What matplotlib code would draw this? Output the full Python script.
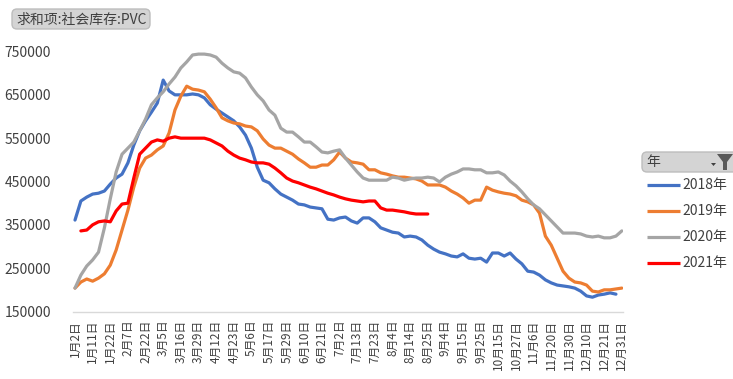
import numpy as np
import matplotlib
matplotlib.use("Agg")
import matplotlib.pyplot as plt
from matplotlib.patches import FancyBboxPatch, Polygon

plt.rcParams['font.family'] = ['Noto Sans CJK SC', 'DejaVu Sans']

# Category labels shown on the date axis (every third category carries a label)
tick_labels = ["1月2日", "1月11日", "1月22日", "2月7日", "2月22日", "3月5日", "3月16日",
               "3月29日", "4月12日", "4月23日", "5月6日", "5月17日", "5月29日", "6月10日",
               "6月21日", "7月2日", "7月13日", "7月23日", "8月4日", "8月14日", "8月25日",
               "9月4日", "9月15日", "9月25日", "10月15日", "10月27日", "11月6日", "11月20日",
               "11月30日", "12月10日", "12月21日", "12月31日"]
label_step = 3

nan = np.nan
# Social inventory of PVC (thousand tonnes), one value per category
y2018 = [361, 405, 414, 421, 423, 428, 444, 458, 467, 493, 534, 567, 590, 610, 631, 684,
         659, 650, 650, 650, 652, 650, 643, 627, 617, 608, 599, 590, 576, 557, 527, 483,
         453, 447, 433, 421, 414, 407, 398, 396, 391, 389, 387, 363, 361, 366, 368, 359,
         354, 366, 366, 357, 343, 338, 333, 331, 322, 324, 322, 315, 303, 294, 287, 283,
         278, 276, 283, 273, 271, 273, 264, 285, 285, 278, 285, 271, 260, 243, 241, 234,
         223, 216, 211, 209, 207, 204, 197, 186, 183, 188, 190, 193, 190, nan]
y2019 = [204, 218, 225, 220, 227, 237, 257, 292, 338, 384, 437, 481, 504, 511, 523, 532,
         562, 615, 647, 670, 663, 661, 657, 640, 620, 597, 590, 585, 583, 578, 576, 567,
         548, 534, 527, 527, 520, 513, 502, 493, 483, 483, 488, 488, 500, 518, 504, 495,
         493, 490, 477, 477, 470, 467, 463, 460, 460, 458, 456, 451, 442, 442, 442, 437,
         428, 421, 412, 400, 407, 407, 437, 430, 426, 423, 421, 417, 407, 403, 396, 377,
         324, 303, 273, 243, 227, 218, 216, 211, 197, 195, 200, 200, 202, 204]
y2020 = [204, 234, 255, 269, 287, 343, 410, 472, 513, 527, 541, 567, 594, 627, 643, 657,
         675, 691, 712, 726, 742, 744, 744, 742, 737, 723, 712, 703, 700, 689, 668, 650,
         636, 615, 603, 573, 564, 564, 553, 541, 541, 530, 518, 516, 520, 523, 504, 488,
         472, 458, 453, 453, 453, 453, 460, 458, 453, 456, 458, 458, 460, 458, 449, 460,
         467, 472, 479, 479, 477, 477, 470, 470, 472, 465, 451, 440, 426, 410, 396, 387,
         373, 359, 345, 331, 331, 331, 329, 324, 322, 324, 320, 320, 324, 336]
y2021 = [nan, 336, 338, 350, 357, 359, 357, 382, 398, 400, 458, 513, 527, 541, 546, 543,
         550, 553, 550, 550, 550, 550, 550, 546, 539, 532, 520, 511, 504, 500, 495, 493,
         493, 490, 481, 470, 458, 451, 447, 442, 437, 433, 428, 423, 419, 414, 410, 407,
         405, 403, 405, 405, 389, 384, 384, 382, 380, 377, 375, 375, 375, nan, nan, nan,
         nan, nan, nan, nan, nan, nan, nan, nan, nan, nan, nan, nan, nan, nan, nan, nan,
         nan, nan, nan, nan, nan, nan, nan, nan, nan, nan, nan, nan, nan, nan]

series_names = ["2018年", "2019年", "2020年", "2021年"]
series_values = [y2018, y2019, y2020, y2021]
series_colors = ["#4472C4", "#ED7D31", "#A5A5A5", "#FF0000"]

W, H = 733, 379
fig = plt.figure(figsize=(W / 100, H / 100), dpi=100)
fig.patch.set_facecolor("white")

# Main plot area in pixel terms: x 73..623, y 51.5..311.5
left, right, top, bottom = 73, 623, 51.5, 311.5
ax = fig.add_axes([left / W, 1 - bottom / H, (right - left) / W, (bottom - top) / H])

x = np.arange(len(y2018))
for name, vals, col in zip(series_names, series_values, series_colors):
    ax.plot(x, np.array(vals, dtype=float) * 1000, color=col, lw=2.3,
            solid_joinstyle="round", solid_capstyle="round", label=name)

ax.set_xlim(-0.34, len(x) - 1 + 0.2)
ax.set_ylim(150000, 750000)
ax.set_yticks(np.arange(150000, 750001, 100000))
ax.set_yticklabels([f"{v:d}" for v in range(150000, 750001, 100000)],
                   fontsize=10, color="#404040")
ax.set_xticks(np.arange(0, len(tick_labels) * label_step, label_step))
ax.set_xticklabels(tick_labels, rotation=90, fontsize=8.5, color="#404040")
ax.tick_params(axis="y", length=0, pad=16)
ax.tick_params(axis="x", length=0, pad=6)
for s in ["top", "right", "left"]:
    ax.spines[s].set_visible(False)
ax.spines["bottom"].set_color("#d9d9d9")
ax.spines["bottom"].set_linewidth(1)
ax.set_facecolor("none")

# Overlay in pixel coordinates for the field buttons and legend
ov = fig.add_axes([0, 0, 1, 1])
ov.set_xlim(0, W)
ov.set_ylim(H, 0)
ov.axis("off")
ov.patch.set_visible(False)

# Value field button
ov.add_patch(FancyBboxPatch((12, 9), 138, 20, boxstyle="round,pad=0,rounding_size=5",
                            facecolor="#d4d4d4", edgecolor="#bdbdbd", lw=1))
ov.text(16, 19.5, "求和项:社会库存:PVC", fontsize=10, color="#404040",
        va="center", ha="left")

# Legend field button with filter icon
ov.add_patch(FancyBboxPatch((642, 152), 100, 20, boxstyle="round,pad=0,rounding_size=5",
                            facecolor="#d4d4d4", edgecolor="#bdbdbd", lw=1))
ov.text(646, 162, "年", fontsize=10, color="#404040", va="center", ha="left")
ov.add_patch(Polygon([[717, 154], [733, 154], [727, 162], [727, 170], [723, 170],
                      [723, 162]], closed=True, facecolor="#595959", edgecolor="none"))
ov.add_patch(Polygon([[711, 163], [716, 163], [713.5, 166]], closed=True,
                     facecolor="#404040", edgecolor="none"))

legend_y = [185, 211, 237, 263]
for name, col, ly in zip(series_names, series_colors, legend_y):
    ov.plot([647, 680], [ly, ly], color=col, lw=2.3, solid_capstyle="butt")
    ov.text(682, ly, name, fontsize=10, color="#404040", va="center", ha="left")

fig.savefig("out.png", dpi=100, facecolor="white")
